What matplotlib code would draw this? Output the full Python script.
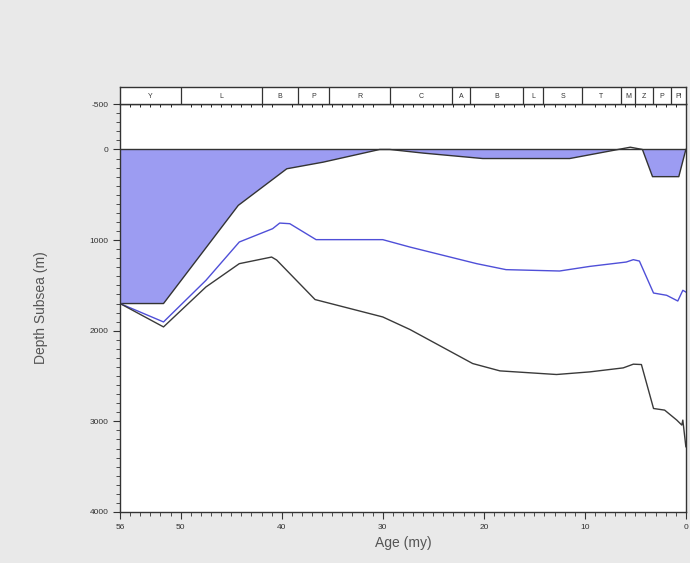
import numpy as np
import matplotlib.pyplot as plt
from matplotlib.ticker import MultipleLocator

plt.rcParams['font.family'] = ['Liberation Sans', 'DejaVu Sans']
plt.rcParams['axes.unicode_minus'] = False

# stage bar (ages in my)
stage_edges = [56, 50, 42, 38.4, 35.3, 29.3, 23.1, 21.4, 16.1, 14.1, 10.3, 6.4, 5.0, 3.3, 1.5, 0]
stage_names = ['Y', 'L', 'B', 'P', 'R', 'C', 'A', 'B', 'L', 'S', 'T', 'M', 'Z', 'P', 'Pl']

# paleo water depth (filled)
wd_age = [56, 51.7, 44.3, 39.5, 35.9, 30.3, 29.3, 26.0, 20.1, 11.5, 5.5, 4.3, 3.3, 0.7, 0]
wd_depth = [1700, 1700, 617, 213, 140, 0, 0, 40, 100, 100, -25, 0, 300, 300, 0]

# blue horizon
mid_age = [56, 51.7, 47.5, 44.2, 40.9, 40.2, 39.2, 36.6, 30.0, 27.3, 20.7, 17.8, 12.5, 9.5,
           5.9, 5.2, 4.6, 3.2, 1.9, 0.8, 0.3, 0]
mid_depth = [1700, 1903, 1444, 1021, 874, 812, 819, 995, 995, 1077, 1260, 1326, 1341, 1290,
             1242, 1216, 1231, 1584, 1609, 1672, 1554, 1573]

# black horizon
low_age = [56, 51.7, 47.5, 44.2, 41.0, 40.5, 36.7, 30.0, 27.3, 21.1, 18.4, 12.8, 9.5, 6.2,
           5.2, 4.4, 3.2, 2.1, 0.9, 0.4, 0.3, 0]
low_depth = [1700, 1958, 1517, 1260, 1187, 1220, 1656, 1848, 1987, 2362, 2443, 2483, 2454, 2410,
             2369, 2373, 2858, 2876, 2986, 3041, 2986, 3280]

fig = plt.figure(figsize=(6.9, 5.63), dpi=100, facecolor='#e9e9e9')
ax = fig.add_axes([0.174, 0.0906, 0.82, 0.7244])
ax.set_facecolor('white')

wd = np.array(wd_depth)
ax.fill_between(wd_age, 0, wd, where=wd > 0, interpolate=True, color='#9c9cf2', lw=0)
ax.plot(wd_age, wd_depth, color='#333333', lw=1)
ax.axhline(0, color='#333333', lw=1)
ax.plot(mid_age, mid_depth, color='#4f4fd8', lw=1)
ax.plot(low_age, low_depth, color='#3a3a3a', lw=1)

ax.set_xlim(56, 0)
ax.set_ylim(4000, -500)
ax.set_xticks([56, 50, 40, 30, 20, 10, 0])
ax.set_yticks([-500, 0, 1000, 2000, 3000, 4000])
ax.xaxis.set_minor_locator(MultipleLocator(1))
ax.yaxis.set_minor_locator(MultipleLocator(100))
ax.tick_params(which='major', direction='out', length=5, width=0.8, labelsize=6,
               labelcolor='#333333', color='#333333')
ax.tick_params(which='minor', direction='out', length=3, width=0.6, color='#333333')
for s in ax.spines.values():
    s.set_color('#333333')
    s.set_linewidth(1)
ax.set_xlabel('Age (my)', fontsize=10, color='#555555', labelpad=4)
ax.set_ylabel('Depth Subsea (m)', fontsize=10, color='#555555', labelpad=30)

# stage bar above the plot
sax = fig.add_axes([0.174, 0.815, 0.82, 0.031], sharex=ax)
sax.set_facecolor('white')
sax.set_ylim(0, 1)
for e in stage_edges[1:-1]:
    sax.axvline(e, color='#333333', lw=0.9)
for i, name in enumerate(stage_names):
    mid = (stage_edges[i] + stage_edges[i + 1]) / 2
    sax.text(mid, 0.45, name, ha='center', va='center', fontsize=5, color='#333333')
sax.tick_params(left=False, bottom=False, labelleft=False, labelbottom=False)
for s in sax.spines.values():
    s.set_color('#333333')
    s.set_linewidth(1)

fig.savefig('out.png', dpi=100, facecolor=fig.get_facecolor())
